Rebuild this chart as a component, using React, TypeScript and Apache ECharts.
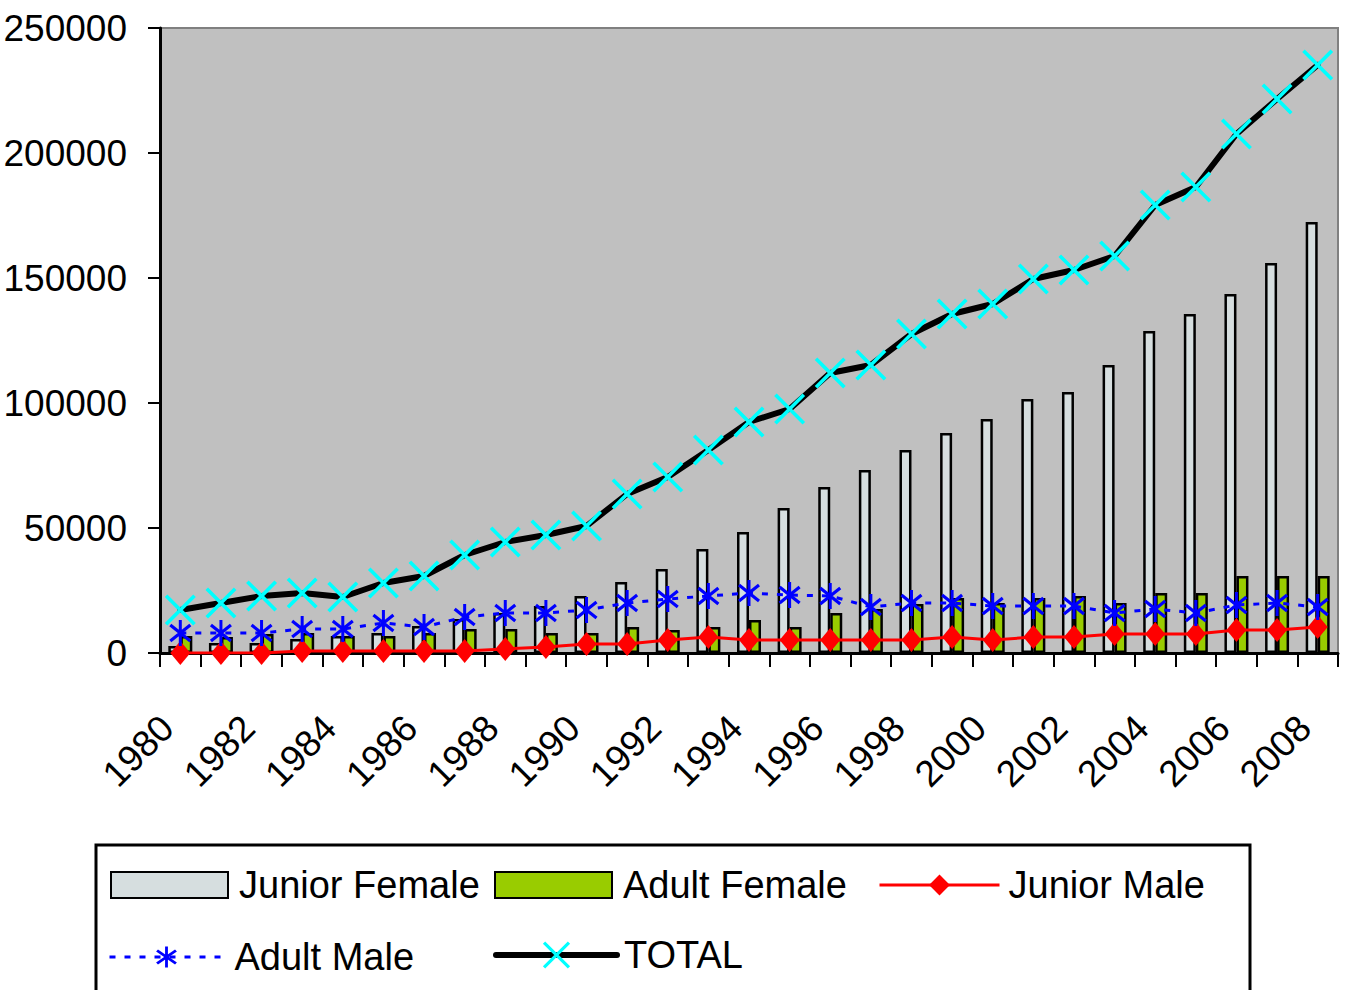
import React, { useEffect, useRef } from "react";
import * as echarts from "echarts";

const years = ["1980","1981","1982","1983","1984","1985","1986","1987","1988","1989","1990","1991","1992","1993","1994","1995","1996","1997","1998","1999","2000","2001","2002","2003","2004","2005","2006","2007","2008"];
const juniorFemale = [2800, 4000, 4000, 5600, 6800, 8000, 10800, 13600, 16000, 18800, 22800, 28400, 33600, 41600, 48400, 58000, 66400, 73200, 81200, 88000, 93600, 101600, 104400, 115200, 128800, 135600, 143600, 156000, 172400];
const adultFemale = [6800, 6400, 7600, 8000, 6800, 6800, 8000, 9600, 9600, 8000, 8000, 10400, 9200, 10400, 13200, 10400, 16000, 17600, 19600, 22000, 20000, 22000, 22800, 20000, 24000, 24000, 30800, 30800, 30800];
const juniorMale = [0, 0, 0, 800, 800, 800, 800, 800, 1600, 2400, 3600, 3600, 5200, 6400, 5200, 5200, 5200, 5200, 5200, 6400, 5200, 6400, 6400, 7600, 7600, 7600, 9200, 9200, 10400];
const adultMale = [8000, 8000, 8000, 9600, 9600, 12000, 10400, 14400, 16000, 16000, 17200, 20000, 21600, 22800, 24000, 23200, 22800, 18400, 20000, 20000, 18800, 18800, 18800, 16000, 17600, 16000, 19200, 20000, 18400];
const total = [17200, 20000, 22800, 24000, 22400, 28000, 30800, 39200, 44400, 47200, 50800, 63600, 70400, 81200, 92400, 97600, 112000, 115200, 127600, 135600, 139600, 149600, 153200, 158800, 179200, 186400, 207600, 221600, 235200];

const FONT = "'Liberation Sans', Arial, sans-serif";

const crossPath = "path://M0,2.5 L2.5,0 L30,27.5 L27.5,30 Z M27.5,0 L30,2.5 L2.5,30 L0,27.5 Z";
const asteriskPath =
  "path://M9.5,0 L12.5,0 L12.5,26 L9.5,26 Z " +
  "M2,3.75 L22,19.75 L20,22.25 L0,6.25 Z " +
  "M20,3.75 L22,6.25 L2,22.25 L0,19.75 Z";

export default function App() {
  const ref = useRef<HTMLDivElement>(null);
  useEffect(() => {
    if (!ref.current) return;
    const chart = echarts.init(ref.current, null, { renderer: "svg" });
    const legendText = (pad: number) => ({ fontFamily: FONT, fontSize: 38, color: "#000", padding: [0, 0, 0, pad] });
    const mkLegend = (name: string, left: number, top: number, w: number, h: number, pad: number, extra: any = {}) => ({
      data: [name],
      left,
      top,
      orient: "horizontal",
      padding: 0,
      itemWidth: w,
      itemHeight: h,
      textStyle: legendText(pad),
      selectedMode: false,
      ...extra,
    });
    chart.setOption({
      animation: false,
      backgroundColor: "#fff",
      grid: {
        left: 160,
        top: 28,
        right: 10,
        bottom: 337,
        outerBoundsMode: "none",
        containLabel: false,
        show: true,
        backgroundColor: "#C0C0C0",
        borderColor: "#808080",
        borderWidth: 2,
      },
      xAxis: {
        type: "category",
        data: years,
        boundaryGap: true,
        axisLine: { lineStyle: { color: "#000", width: 3 } },
        axisTick: { show: true, interval: 0, length: 14, lineStyle: { color: "#000", width: 2 } },
        axisLabel: {
          interval: 1,
          rotate: 45,
          margin: 82,
          verticalAlign: "bottom",
          fontFamily: FONT,
          fontSize: 37,
          color: "#000",
        },
        splitLine: { show: false },
      },
      yAxis: {
        type: "value",
        min: 0,
        max: 250000,
        interval: 50000,
        axisLine: { show: true, lineStyle: { color: "#000", width: 3 } },
        axisTick: { show: true, length: 12, lineStyle: { color: "#000", width: 2 } },
        axisLabel: {
          margin: 33,
          fontFamily: FONT,
          fontSize: 37,
          color: "#000",
          formatter: (v: number) => String(v),
        },
        splitLine: { show: false },
      },
      legend: [
        mkLegend("Junior Female", 110, 866, 117, 26, 6, { icon: "rect" }),
        mkLegend("Adult Female", 494, 866, 117, 26, 6, { icon: "rect" }),
        mkLegend("Junior Male", 878, 866, 120, 26, 4, { lineStyle: { width: 3 } }),
        mkLegend("Adult Male", 108, 938, 114, 26, 6, { lineStyle: { width: 3 } }),
        mkLegend("TOTAL", 493, 936, 121, 34, 2, { lineStyle: { width: 6 } }),
      ],
      graphic: [
        {
          type: "rect",
          shape: { x: 96, y: 845, width: 1154, height: 200 },
          style: { fill: "none", stroke: "#000", lineWidth: 3 },
          silent: true,
        },
      ],
      series: [
        {
          name: "Junior Female",
          type: "bar",
          data: juniorFemale,
          barWidth: 12,
          barGap: "0%",
          itemStyle: { color: "#D6DEDF", borderColor: "#000", borderWidth: 2.5 },
        },
        {
          name: "Adult Female",
          type: "bar",
          data: adultFemale,
          barWidth: 12,
          barGap: "0%",
          itemStyle: { color: "#99CC00", borderColor: "#000", borderWidth: 2.5 },
        },
        {
          name: "Junior Male",
          type: "line",
          data: juniorMale,
          symbol: "diamond",
          symbolSize: [20, 24],
          showAllSymbol: true,
          itemStyle: { color: "#FF0000" },
          lineStyle: { color: "#FF0000", width: 3 },
        },
        {
          name: "Adult Male",
          type: "line",
          data: adultMale,
          symbol: asteriskPath,
          symbolSize: [22, 26],
          showAllSymbol: true,
          itemStyle: { color: "#0000FF" },
          lineStyle: { color: "#0000FF", width: 3, type: [6, 9] },
        },
        {
          name: "TOTAL",
          type: "line",
          data: total,
          symbol: crossPath,
          symbolSize: 31,
          showAllSymbol: true,
          itemStyle: { color: "#00FFFF" },
          lineStyle: { color: "#000", width: 6, cap: "round", join: "round" },
        },
      ],
    });
    return () => chart.dispose();
  }, []);
  return (
    <div
      ref={ref}
      style={{ position: "fixed", left: 0, top: 0, width: 1348, height: 990 }}
    />
  );
}
